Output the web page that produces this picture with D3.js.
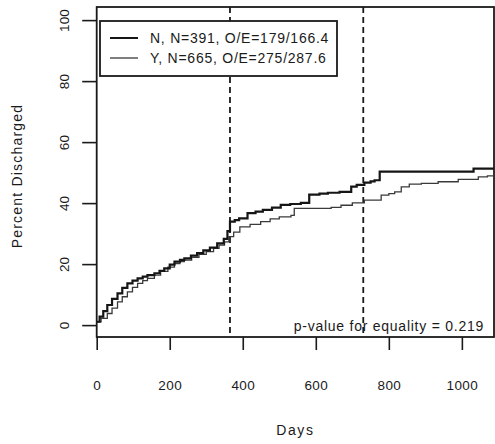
<!DOCTYPE html>
<head>
	<meta charset="utf-8">
	<title>Percent Discharged</title>
	<script src="https://d3js.org/d3.v7.min.js"></script>
	<style>
		body { margin: 0; background: #fff; }
		text { font-family: "Liberation Sans", Arial, sans-serif; fill: #1a1a1a; }
		.box { fill: none; stroke: #1a1a1a; stroke-width: 1.8px; }
		.tick line { stroke: #1a1a1a; stroke-width: 1.6px; }
	</style>
</head>
<body>
<div id="viz"></div>
<script>
// Kaplan-Meier style curves
var nDays = [0, 8, 18, 29, 42, 57, 70, 84, 98, 112, 126, 139, 158, 172, 185, 200, 213, 228, 240, 258, 275, 292, 310, 330, 348, 358, 365, 378, 390, 413, 435, 455, 480, 504, 530, 559, 582, 610, 633, 665, 697, 712, 733, 750, 761, 775, 1032];
var nPct  = [1.1, 2.8, 4.6, 6.6, 8.6, 10.4, 12.2, 13.7, 14.6, 15.3, 15.9, 16.4, 17, 17.8, 18.6, 19.8, 20.8, 21.4, 21.9, 22.8, 23.6, 24.5, 25.4, 26.8, 28.3, 30.8, 33.9, 34.4, 35, 36.7, 37.2, 37.8, 38.5, 39.4, 39.7, 40.1, 42.8, 43.1, 43.4, 43.7, 45.4, 46, 46.7, 47.1, 47.5, 50.3, 51.3];

var yDays = [0, 12, 29, 42, 57, 70, 84, 98, 112, 126, 139, 158, 175, 195, 213, 228, 240, 260, 280, 300, 320, 335, 350, 362, 375, 392, 420, 449, 475, 500, 532, 541, 642, 669, 700, 733, 779, 800, 816, 834, 856, 889, 935, 990, 1045, 1070];
var yPct  = [1.1, 2.2, 3.8, 5.6, 7.6, 9.3, 10.9, 12.4, 13.7, 14.6, 15.3, 16.4, 17.6, 19, 20.2, 20.8, 21.3, 22.2, 23.2, 24.1, 25.2, 26.2, 27.3, 29, 30.5, 32.2, 33, 33.9, 34.8, 35.5, 36, 38.3, 38.6, 39.3, 40.1, 41, 42.6, 43.1, 43.7, 45.3, 46.2, 46.5, 47, 47.8, 48.6, 48.9];

var xTicks = [0, 200, 400, 600, 800, 1000];
var yTicks = [0, 20, 40, 60, 80, 100];
var cutDays = [365, 730];
var legendLabels = ["N, N=391, O/E=179/166.4", "Y, N=665, O/E=275/287.6"];
var pText = "p-value for equality = 0.219";

var width = 495, height = 444;
var box = {left: 96.7, right: 494, top: 7, bottom: 337};

var svg = d3.select("#viz").append("svg")
	.attr("width", width)
	.attr("height", height);

// scales: x runs a little past 1000 days, y leaves room under 0 and over 100
var x = d3.scaleLinear().domain([0, 1088]).range([box.left, box.right]);
var y = d3.scaleLinear().domain([-3.9, 104.3]).range([box.bottom, box.top]);

// axes
var xAxis = svg.append("g")
	.attr("transform", "translate(0," + box.bottom + ")")
	.call(d3.axisBottom(x).tickValues(xTicks).tickFormat(d3.format("d")).tickSize(13).tickPadding(30));
xAxis.select(".domain").remove();
xAxis.selectAll("text")
	.style("font-size", "13.5px")
	.style("letter-spacing", "0.4px")
	.attr("fill", "#1a1a1a");

var yAxis = svg.append("g")
	.attr("transform", "translate(" + box.left + ",0)")
	.call(d3.axisLeft(y).tickValues(yTicks).tickSize(14.5).tickPadding(0));
yAxis.select(".domain").remove();
yAxis.selectAll("text")
	.attr("x", null)
	.attr("transform", "translate(-32,0) rotate(-90)")
	.attr("text-anchor", "middle")
	.attr("dy", "0.35em")
	.style("font-size", "13.5px")
	.attr("fill", "#1a1a1a");

// plot box
svg.append("rect")
	.attr("class", "box")
	.attr("x", box.left)
	.attr("y", box.top)
	.attr("width", box.right - box.left)
	.attr("height", box.bottom - box.top);

// one and two year marks
svg.selectAll(".cut")
	.data(cutDays)
	.enter().append("line")
	.attr("x1", function(d) { return x(d); })
	.attr("x2", function(d) { return x(d); })
	.attr("y1", box.top)
	.attr("y2", box.bottom)
	.attr("stroke", "#1a1a1a")
	.attr("stroke-width", 1.8)
	.attr("stroke-dasharray", "6,4");

// step curves
var step = d3.line()
	.x(function(d) { return x(d[0]); })
	.y(function(d) { return y(d[1]); })
	.curve(d3.curveStepAfter);

var nData = d3.zip(nDays, nPct).concat([[1088, nPct[nPct.length - 1]]]);
var yData = d3.zip(yDays, yPct).concat([[1088, yPct[yPct.length - 1]]]);

svg.append("path")
	.datum(yData)
	.attr("d", step)
	.attr("fill", "none")
	.attr("stroke", "#3a3a3a")
	.attr("stroke-width", 1.3);

svg.append("path")
	.datum(nData)
	.attr("d", step)
	.attr("fill", "none")
	.attr("stroke", "#151515")
	.attr("stroke-width", 2.2);

// legend
svg.append("rect")
	.attr("x", 100).attr("y", 21)
	.attr("width", 237).attr("height", 55)
	.attr("fill", "#fff")
	.attr("stroke", "#1a1a1a")
	.attr("stroke-width", 1.8);

var leg = svg.selectAll(".leg")
	.data(legendLabels)
	.enter().append("g")
	.attr("transform", function(d, i) { return "translate(0," + (38 + i * 20) + ")"; });
leg.append("line")
	.attr("x1", 110).attr("x2", 138)
	.attr("stroke", function(d, i) { return i === 0 ? "#151515" : "#3a3a3a"; })
	.attr("stroke-width", function(d, i) { return i === 0 ? 2 : 1.3; });
leg.append("text")
	.attr("x", 150)
	.attr("dy", "0.36em")
	.style("font-size", "14px")
	.style("letter-spacing", "0.75px")
	.text(function(d) { return d; });

// p-value note
svg.append("text")
	.attr("x", 484)
	.attr("y", 331)
	.attr("text-anchor", "end")
	.style("font-size", "14px")
	.style("letter-spacing", "0.75px")
	.text(pText);

// axis titles
svg.append("text")
	.attr("x", (box.left + box.right) / 2)
	.attr("y", 435)
	.attr("text-anchor", "middle")
	.style("font-size", "14px")
	.style("letter-spacing", "1.6px")
	.text("Days");

svg.append("text")
	.attr("transform", "translate(22,176) rotate(-90)")
	.attr("text-anchor", "middle")
	.style("font-size", "14px")
	.style("letter-spacing", "1.2px")
	.text("Percent Discharged");
</script>
</body>
</html>
